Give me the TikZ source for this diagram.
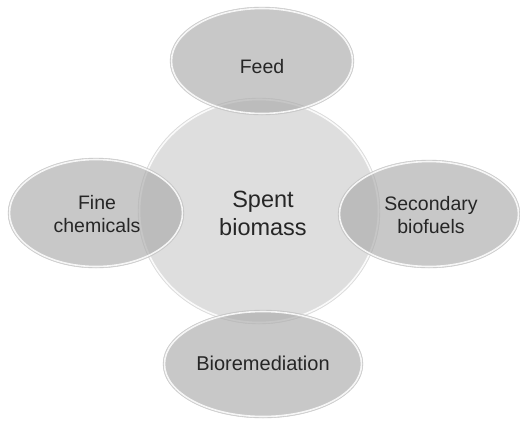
\documentclass[tikz,border=0pt]{standalone}
\usepackage{fontspec}
\setmainfont{Liberation Sans}
\usetikzlibrary{shapes.geometric}
\definecolor{txt}{HTML}{262626}
\definecolor{blobfill}{gray}{0.667}
\definecolor{hubfill}{gray}{0.87}
\tikzset{
  blob/.style={ellipse, inner sep=0pt, fill=blobfill, fill opacity=0.64,
    draw=gray!40, line width=0.4pt},
  hub/.style={ellipse, inner sep=0pt, fill=hubfill, draw=gray!30, line width=0.4pt},
  rim/.style={ellipse, inner sep=0pt, draw=white, draw opacity=0.85, line width=1.6pt},
  lbl/.style={text=txt, inner sep=0pt, align=center, font=\fontsize{19.5}{22.5}\selectfont},
  biglbl/.style={text=txt, inner sep=0pt, align=center, font=\fontsize{23.5}{28}\selectfont}
}
\begin{document}
\begin{tikzpicture}[x=1pt,y=-1pt]
\useasboundingbox[fill=white] (0,0) rectangle (520,424);
% central hub
\node[hub, minimum width=242pt, minimum height=226pt] (hub) at (259,211) {};
\node[rim, minimum width=239pt, minimum height=223pt] (hubrim) at (259,211) {};
% satellites
\node[blob, minimum width=184pt, minimum height=108pt] (feed) at (262,61) {};
\node[blob, minimum width=176pt, minimum height=110pt] (fine) at (96,213) {};
\node[blob, minimum width=182pt, minimum height=108pt] (sec) at (429,214) {};
\node[blob, minimum width=200pt, minimum height=108pt] (bio) at (263,364) {};
\node[rim, minimum width=181pt, minimum height=105pt] (feedrim) at (262,61) {};
\node[rim, minimum width=173pt, minimum height=107pt] (finerim) at (96,213) {};
\node[rim, minimum width=179pt, minimum height=105pt] (secrim) at (429,214) {};
\node[rim, minimum width=197pt, minimum height=105pt] (biorim) at (263,364) {};
% labels
\node[biglbl] (hublbl) at (263,213.4) {Spent\\biomass};
\node[lbl] (feedlbl) at (262,66.2) {Feed};
\node[lbl] (finelbl) at (97,214) {Fine\\chemicals};
\node[lbl] (seclbl) at (431,215) {Secondary\\biofuels};
\node[lbl, font=\fontsize{20}{23}\selectfont] (biolbl) at (263,363.7) {Bioremediation};
\end{tikzpicture}
\end{document}
